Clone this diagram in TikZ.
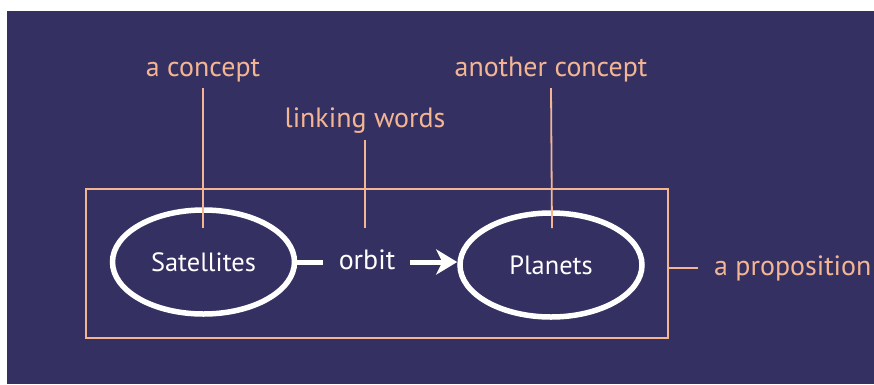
\documentclass[tikz,border=0pt]{standalone}
\usepackage{fontspec}
\setmainfont{PT Sans}
\usetikzlibrary{shapes.geometric,arrows.meta}
\definecolor{night}{HTML}{343162}
\definecolor{salmon}{HTML}{F4B593}
\tikzset{
  concept/.style={ellipse,draw=white,line width=5.5bp,minimum width=182bp,minimum height=104bp,inner sep=0pt},
  conceptname/.style={text=white,font=\fontsize{26.5}{30}\selectfont,inner sep=0pt,anchor=base},
  tag/.style={text=salmon,font=\fontsize{28}{32}\selectfont,inner sep=0pt,anchor=base},
  pointer/.style={draw=salmon,line width=1.8bp},
  linkword/.style={text=white,font=\fontsize{28}{32}\selectfont,inner sep=0pt,anchor=base},
  link/.style={draw=white,line width=5bp},
}
\begin{document}
\begin{tikzpicture}[x=1bp,y=-1bp]
  \useasboundingbox (0,0) rectangle (874,384);
  \fill[white] (0,0) rectangle (874,384);
  \fill[night] (7,11) rectangle (874,384);

  % proposition frame
  \node[draw=salmon,line width=1.8bp,minimum width=582bp,minimum height=149bp,inner sep=0pt] (frame) at (377,263.5) {};

  % concepts and linking words
  \node[concept] (sat) at (203.5,262) {};
  \node[conceptname] (satname) at (203.5,271) {Satellites};
  \node[concept] (pla) at (551,265) {};
  \node[conceptname] (planame) at (551,274) {Planets};
  \node[linkword] (orb) at (367,269) {orbit};
  \draw[link] (sat.east) -- (sat.east -| 323,0) coordinate (linkend);
  \coordinate (arrstart) at (410,262);
  \draw[link,-{Stealth[length=21bp,width=25bp,inset=6bp]}] (arrstart) -- (arrstart -| pla.west);

  % annotations
  \node[tag] (c1) at (203,76) {a concept};
  \node[tag] (c2) at (551,76) {another concept};
  \node[tag] (lw) at (365,127) {linking words};
  \node[tag,anchor=base west] (pr) at (714,275) {a proposition};

  \coordinate (c1end) at (203,228);
  \coordinate (c2end) at (552,228);
  \coordinate (lwend) at (365,228);
  \draw[pointer] (c1.south |- 0,88) -- (c1end);
  \draw[pointer] (c2.south |- 0,88) -- (c2end);
  \draw[pointer] (lw.south |- 0,140) -- (lwend);
  \draw[pointer] (frame.east |- 0,268) -- (698,268) coordinate (prend);
\end{tikzpicture}
\end{document}
